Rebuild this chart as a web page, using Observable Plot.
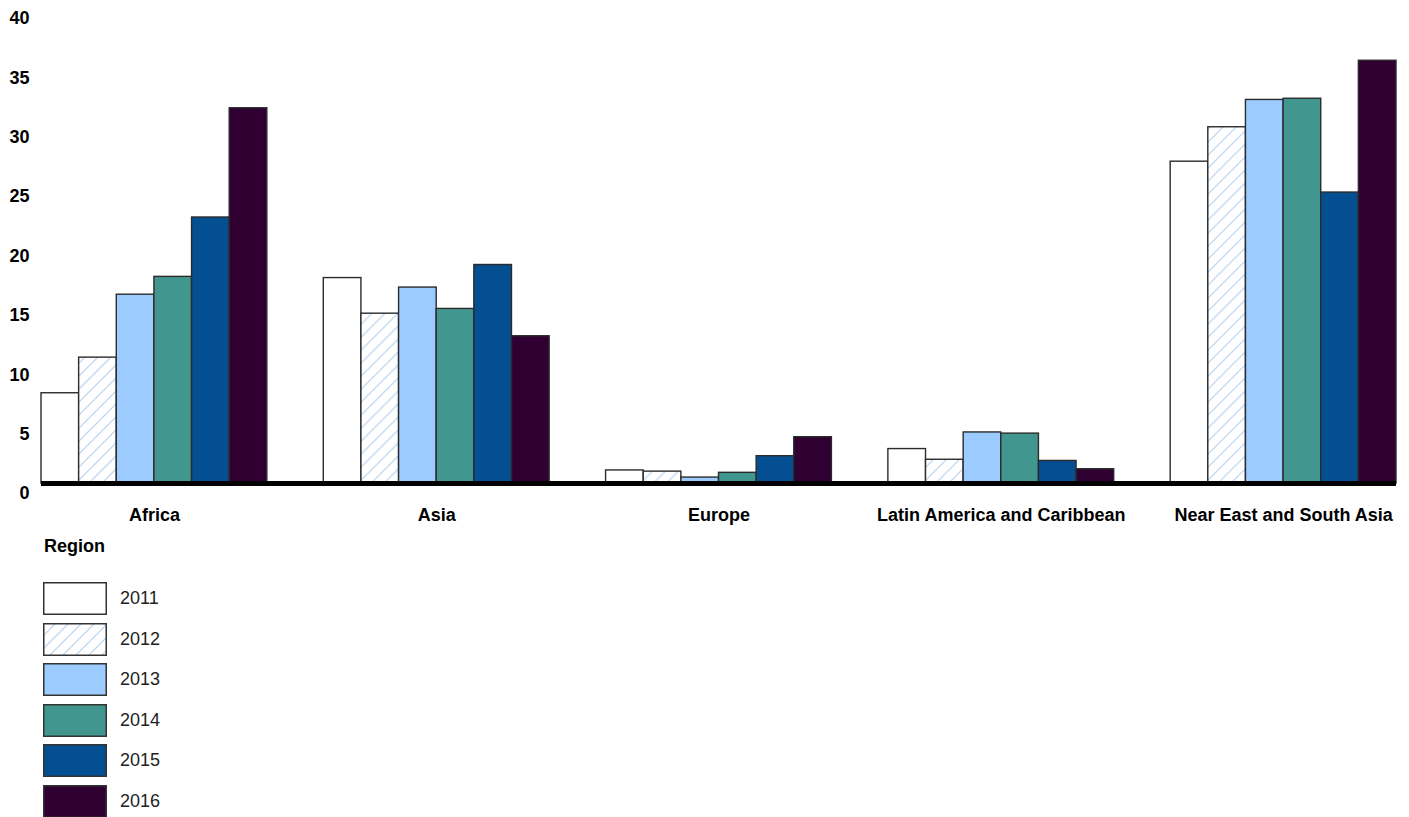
<!DOCTYPE html>
<html><head><meta charset="utf-8">
<script src="https://cdn.jsdelivr.net/npm/d3@7"></script>
<script src="https://cdn.jsdelivr.net/npm/@observablehq/plot@0.6"></script>
<style>
body{margin:0;background:#fff;font-family:"Liberation Sans",Arial,sans-serif;}
#wrap{position:relative;width:1409px;height:817px;overflow:hidden;background:#fff;}
#chart{position:absolute;left:0;top:0;}
#legend-title{position:absolute;left:44px;top:535px;font-weight:bold;font-size:18px;line-height:22px;color:#000;}
.item{position:absolute;left:43px;height:33px;display:flex;align-items:center;}
.item svg{display:block;}
.item span{margin-left:13px;font-size:18px;color:#222;}
</style></head>
<body>
<svg width="0" height="0" style="position:absolute"><defs>
<pattern id="hatch" patternUnits="userSpaceOnUse" width="13" height="13">
<rect width="13" height="13" fill="#fff"/>
<path d="M-1,1 L1,-1 M0,13 L13,0 M12,14 L14,12" stroke="#b5d3f0" stroke-width="1.2"/>
</pattern></defs></svg>
<div id="wrap"><div id="chart"></div><div id="legend-title">Region</div><div id="legend"></div></div>
<script>
const regions = ["Africa", "Asia", "Europe", "Latin America and Caribbean", "Near East and South Asia"];
const years = ["2011", "2012", "2013", "2014", "2015", "2016"];
const v2011 = [7.6, 17.3, 1.1, 2.9, 27.1];
const v2012 = [10.6, 14.3, 1.0, 2.0, 30.0];
const v2013 = [15.9, 16.5, 0.5, 4.3, 32.3];
const v2014 = [17.4, 14.7, 0.9, 4.2, 32.4];
const v2015 = [22.4, 18.4, 2.3, 1.9, 24.5];
const v2016 = [31.6, 12.4, 3.9, 1.2, 35.6];
const yTicks = [0, 5, 10, 15, 20, 25, 30, 35, 40];
const fills = ["#ffffff", "url(#hatch)", "#9ccbff", "#41978f", "#044f91", "#310032"];

const series = [v2011, v2012, v2013, v2014, v2015, v2016];
const data = [];
regions.forEach((r, i) => years.forEach((y, j) => data.push({region: r, year: y, value: series[j][i]})));
const ruleInner = regions.slice(0, -1).map(r => ({region: r, v: 0}));
const ruleLast = regions.slice(-1).map(r => ({region: r, v: 0}));

const chart = Plot.plot({
  width: 1409, height: 530,
  marginTop: 8, marginBottom: 47, marginLeft: 41, marginRight: 13,
  style: {fontFamily: '"Liberation Sans", Arial, sans-serif', fontSize: "18px", color: "#000", background: "#fff", overflow: "visible"},
  fx: {domain: regions, padding: 0.2, paddingOuter: 0, round: false, label: null},
  x: {domain: years, padding: 0, round: false, axis: null},
  y: {domain: [0, 40], axis: null},
  color: {domain: years, range: fills},
  marks: [
    Plot.barY(data, {fx: "region", x: "year", y: "value", fill: "year", stroke: "#2b2b2b", strokeWidth: 1.4}),
    Plot.ruleY(ruleInner, {fx: "region", y: "v", stroke: "#000", strokeWidth: 5, insetRight: -58}),
    Plot.ruleY(ruleLast, {fx: "region", y: "v", stroke: "#000", strokeWidth: 5}),
    Plot.axisY({ticks: yTicks, tickSize: 0, tickPadding: 12, dy: 10, fontWeight: "bold", label: null}),
    Plot.axisFx({anchor: "bottom", tickSize: 0, tickPadding: 25, fontWeight: "bold", label: null})
  ]
});
document.getElementById("chart").appendChild(chart);

const legend = document.getElementById("legend");
years.forEach((y, i) => {
  const div = document.createElement("div");
  div.className = "item";
  div.style.top = (582 + i * 40.6) + "px";
  div.innerHTML = `<svg width="64" height="33"><rect x="0.75" y="0.75" width="62.5" height="31.5" fill="${fills[i]}" stroke="#333" stroke-width="1.5"/></svg><span>${y}</span>`;
  legend.appendChild(div);
});
</script>
</body></html>
